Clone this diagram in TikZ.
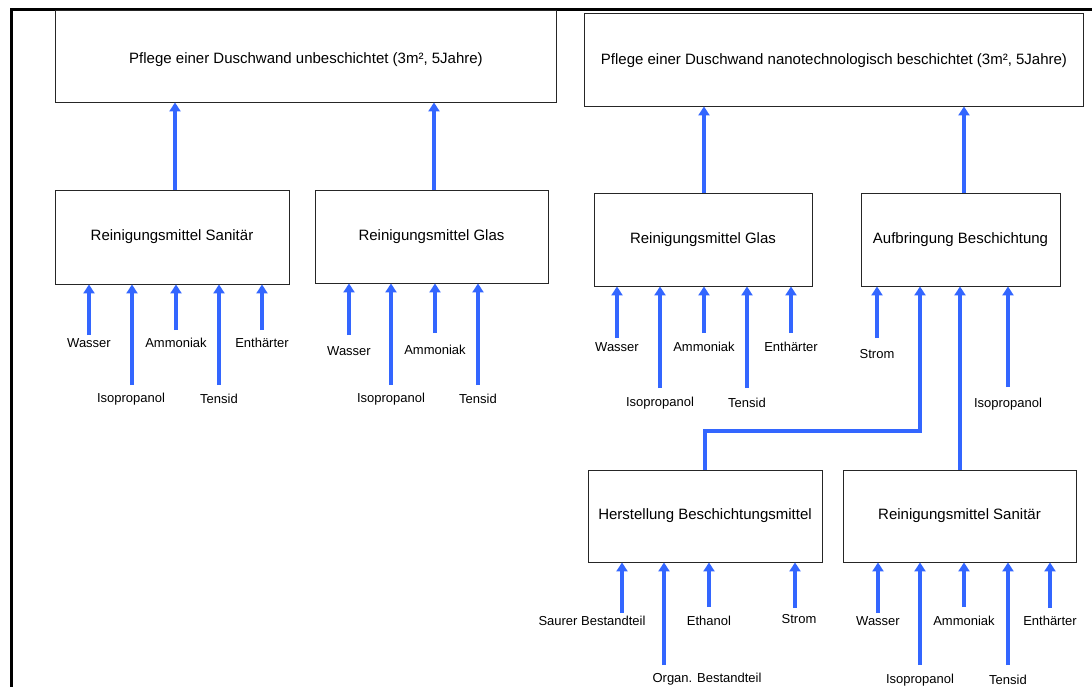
\documentclass[tikz,border=0pt]{standalone}
\usepackage{fontspec}
\setmainfont{Liberation Sans}
\usetikzlibrary{arrows.meta}
\definecolor{arrblue}{RGB}{51,102,255}
\begin{document}
\begin{tikzpicture}[x=1pt,y=-1pt,
 box/.style={draw=black!85, line width=0.9pt, inner sep=0pt, fill=white, font=\fontsize{15}{18}\selectfont},
 boxtext/.style={inner sep=0pt, font=\fontsize{15}{18}\selectfont},
 lbl/.style={inner sep=0pt, font=\fontsize{13}{15}\selectfont},
 arr/.style={draw=arrblue, line width=4pt, -{Triangle[width=11pt,length=9pt]}}]
\useasboundingbox (0,0) rectangle (1092,687);
\draw[line width=3pt] (11,687) -- (11,10) -- (1092,10);

% boxes
\node[box, minimum width=501pt, minimum height=92pt] (A) at (305.5,56) {};
\node[boxtext] (At) at (306,60) {Pflege einer Duschwand unbeschichtet (3m², 5Jahre)};
\node[box, minimum width=499pt, minimum height=93pt] (B) at (833.5,59.5) {};
\node[boxtext] (Bt) at (834,61) {Pflege einer Duschwand nanotechnologisch beschichtet (3m², 5Jahre)};
\node[box, minimum width=234pt, minimum height=94pt] (C) at (172,237) {Reinigungsmittel Sanitär};
\node[box, minimum width=233pt, minimum height=93pt] (D) at (431.5,236.5) {Reinigungsmittel Glas};
\node[box, minimum width=218pt, minimum height=93pt] (E) at (703,239.5) {Reinigungsmittel Glas};
\node[box, minimum width=199pt, minimum height=93pt] (F) at (960.5,239.5) {Aufbringung Beschichtung};
\node[box, minimum width=234pt, minimum height=92pt] (G) at (705,516) {Herstellung Beschichtungsmittel};
\node[box, minimum width=233pt, minimum height=92pt] (H) at (959.5,516) {Reinigungsmittel Sanitär};

% main connectors
\coordinate (xCA) at (175,0);
\coordinate (xDA) at (434,0);
\coordinate (xEB) at (704,0);
\coordinate (xFB) at (964,0);
\draw[arr] (C.north -| xCA) -- (A.south -| xCA);
\draw[arr] (D.north -| xDA) -- (A.south -| xDA);
\draw[arr] (E.north -| xEB) -- (B.south -| xEB);
\draw[arr] (F.north -| xFB) -- (B.south -| xFB);
\coordinate (xG) at (705,0);
\coordinate (xGF) at (920,0);
\coordinate (bendy) at (0,431);
\coordinate (xHF) at (960,0);
\draw[arr] (G.north -| xG) -- (xG |- bendy) -- (xGF |- bendy) -- (F.south -| xGF);
\draw[arr] (H.north -| xHF) -- (F.south -| xHF);

% inputs: C
\coordinate (c1) at (89,335);  \node[lbl] at (89,343) {Wasser};
\coordinate (c2) at (132,385); \node[lbl] at (131,399) {Isopropanol};
\coordinate (c3) at (176,330); \node[lbl] at (176,343) {Ammoniak};
\coordinate (c4) at (219,385); \node[lbl] at (219,399) {Tensid};
\coordinate (c5) at (262,330); \node[lbl] at (262,343) {Enthärter};
\foreach \c in {c1,c2,c3,c4,c5} \draw[arr] (\c) -- (\c |- C.south);

% inputs: D
\coordinate (d1) at (349,335); \node[lbl] at (349,351) {Wasser};
\coordinate (d2) at (391,385); \node[lbl] at (391,399) {Isopropanol};
\coordinate (d3) at (435,333); \node[lbl] at (435,350) {Ammoniak};
\coordinate (d4) at (478,385); \node[lbl] at (478,399) {Tensid};
\foreach \c in {d1,d2,d3,d4} \draw[arr] (\c) -- (\c |- D.south);

% inputs: E
\coordinate (e1) at (617,338); \node[lbl] at (617,347) {Wasser};
\coordinate (e2) at (660,388); \node[lbl] at (660,403) {Isopropanol};
\coordinate (e3) at (704,333); \node[lbl] at (704,347) {Ammoniak};
\coordinate (e4) at (747,388); \node[lbl] at (747,403) {Tensid};
\coordinate (e5) at (791,333); \node[lbl] at (791,347) {Enthärter};
\foreach \c in {e1,e2,e3,e4,e5} \draw[arr] (\c) -- (\c |- E.south);

% inputs: F
\coordinate (f1) at (877,338);  \node[lbl] at (877,354) {Strom};
\coordinate (f2) at (1008,387); \node[lbl] at (1008,404) {Isopropanol};
\foreach \c in {f1,f2} \draw[arr] (\c) -- (\c |- F.south);

% inputs: G
\coordinate (g1) at (622,613); \node[lbl] at (592,621) {Saurer Bestandteil};
\coordinate (g2) at (664,665); \node[lbl] at (707,679) {Organ. Bestandteil};
\coordinate (g3) at (709,607); \node[lbl] at (709,621) {Ethanol};
\coordinate (g4) at (795,608); \node[lbl] at (799,619) {Strom};
\foreach \c in {g1,g2,g3,g4} \draw[arr] (\c) -- (\c |- G.south);

% inputs: H
\coordinate (h1) at (878,613);  \node[lbl] at (878,621) {Wasser};
\coordinate (h2) at (920,665);  \node[lbl] at (920,680) {Isopropanol};
\coordinate (h3) at (964,607);  \node[lbl] at (964,621) {Ammoniak};
\coordinate (h4) at (1008,665); \node[lbl] at (1008,680) {Tensid};
\coordinate (h5) at (1050,608); \node[lbl] at (1050,621) {Enthärter};
\foreach \c in {h1,h2,h3,h4,h5} \draw[arr] (\c) -- (\c |- H.south);
\end{tikzpicture}
\end{document}
